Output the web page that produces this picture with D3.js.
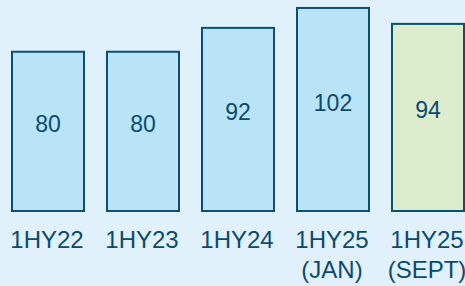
<!DOCTYPE html>
<html>
<head>
<meta charset="utf-8">
<script src="https://cdn.jsdelivr.net/npm/d3@7"></script>
<style>
html,body{margin:0;padding:0;background:#e0f1fb;overflow:hidden;}
svg{display:block;}
</style>
</head>
<body>
<script>
const categories = ["1HY22", "1HY23", "1HY24", "1HY25\n(JAN)", "1HY25\n(SEPT)"];
const values = [80, 80, 92, 102, 94];
const highlight = [false, false, false, false, true];

const W = 465, H = 286;
const svg = d3.select("body").append("svg").attr("width", W).attr("height", H);
svg.append("rect").attr("width", W).attr("height", H).attr("fill", "#e0f1fb");

const x = d3.scaleBand().domain(categories).range([12, 464]).paddingInner(23/95).paddingOuter(0);
const y = d3.scaleLinear().domain([0, 106]).range([211, 0]);

const data = categories.map((c, i) => ({c, v: values[i], h: highlight[i]}));

svg.selectAll("rect.bar").data(data).enter().append("rect")
  .attr("class", "bar")
  .attr("x", d => x(d.c))
  .attr("y", d => y(d.v))
  .attr("width", x.bandwidth())
  .attr("height", d => y(0) - y(d.v))
  .attr("fill", d => d.h ? "#deecce" : "#b9e4f8")
  .attr("stroke", "#0b4f76")
  .attr("stroke-width", 2);

svg.selectAll("text.val").data(data).enter().append("text")
  .attr("class", "val")
  .attr("x", d => x(d.c) + x.bandwidth() / 2)
  .attr("y", d => (y(d.v) + y(0)) / 2 - 7)
  .attr("dy", "0.35em")
  .attr("text-anchor", "middle")
  .attr("font-family", "Liberation Sans, Arial, sans-serif")
  .attr("font-size", 23)
  .attr("fill", "#0b4a6e")
  .text(d => d.v);

const labels = svg.selectAll("text.cat").data(data).enter().append("text")
  .attr("class", "cat")
  .attr("text-anchor", "middle")
  .attr("font-family", "Liberation Sans, Arial, sans-serif")
  .attr("font-size", 24)
  .attr("fill", "#0b4a6e");
labels.each(function(d) {
  const t = d3.select(this);
  d.c.split("\n").forEach((line, i) => {
    t.append("tspan")
      .attr("x", x(d.c) + x.bandwidth() / 2 - 1)
      .attr("y", 248 + i * 30)
      .text(line);
  });
});
</script>
</body>
</html>
